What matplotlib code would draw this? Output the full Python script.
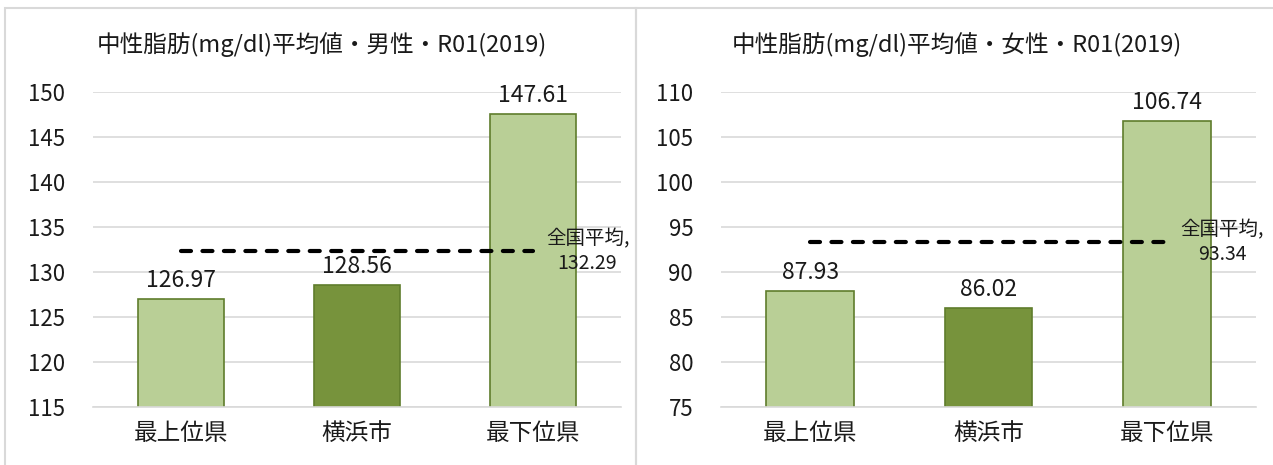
import matplotlib
matplotlib.use("Agg")
import matplotlib.pyplot as plt
from matplotlib.patches import Rectangle

plt.rcParams['font.family'] = ['Noto Sans CJK JP', 'DejaVu Sans']

categories = ["最上位県", "横浜市", "最下位県"]

male_values = [126.97, 128.56, 147.61]
male_avg = 132.29
male_ticks = [115, 120, 125, 130, 135, 140, 145, 150]
male_title = "中性脂肪(mg/dl)平均値・男性・R01(2019)"

female_values = [87.93, 86.02, 106.74]
female_avg = 93.34
female_ticks = [75, 80, 85, 90, 95, 100, 105, 110]
female_title = "中性脂肪(mg/dl)平均値・女性・R01(2019)"

light_green = "#b9cf96"
dark_green = "#77933c"
edge_green = "#5f7d2c"
grid_gray = "#d9d9d9"
text_col = "#1a1a1a"

W, H = 1273, 465
fig = plt.figure(figsize=(W / 100, H / 100), dpi=100)


def px(x0, y0, w, h):
    # pixel box (from top-left) -> figure fraction
    return [x0 / W, 1 - (y0 + h) / H, w / W, h / H]


# chart borders
for x0, x1 in [(5, 636), (636, 1290)]:
    fig.patches.append(Rectangle((x0 / W, -0.1), (x1 - x0) / W, (H - 8) / H + 0.1,
                                 transform=fig.transFigure, fill=False,
                                 edgecolor=grid_gray, linewidth=1.5))


def draw(ax, values, avg, ticks, title, title_x):
    colors = [light_green, dark_green, light_green]
    x = range(len(categories))
    bars = ax.bar(x, values, width=0.49, color=colors, edgecolor=edge_green,
                  linewidth=1.2, zorder=2)
    ax.set_ylim(ticks[0], ticks[-1])
    ax.set_xlim(-0.5, 2.5)
    ax.set_yticks(ticks)
    ax.set_xticks(list(x))
    ax.set_xticklabels(categories, fontsize=17, color=text_col)
    ax.tick_params(axis='y', length=0, pad=20, labelsize=16, labelcolor=text_col)
    ax.tick_params(axis='x', length=0, pad=11)
    ax.grid(axis='y', color=grid_gray, linewidth=1.2, zorder=0)
    for s in ["top", "right", "left"]:
        ax.spines[s].set_visible(False)
    ax.spines["bottom"].set_color(grid_gray)
    ax.spines["bottom"].set_linewidth(1.2)
    for b, v in zip(bars, values):
        ax.annotate(f"{v:.2f}", (b.get_x() + b.get_width() / 2, v),
                    xytext=(0, 5), textcoords="offset points",
                    ha="center", va="bottom", fontsize=16.5, color=text_col)
    ax.plot([0, 2], [avg, avg], color="black", linewidth=3,
            dashes=(2.4, 2.75), dash_capstyle="round", zorder=3)
    ax.text(2.31, avg, f"全国平均,\n{avg:.2f}", ha="center", va="center",
            fontsize=14, color=text_col, linespacing=1.25, zorder=4)
    fig.text(title_x / W, 1 - 45 / H, title, ha="center", va="center",
             fontsize=17, color=text_col)


ax1 = fig.add_axes(px(93, 92, 528, 315))
draw(ax1, male_values, male_avg, male_ticks, male_title, 322)

ax2 = fig.add_axes(px(721, 92, 535, 315))
draw(ax2, female_values, female_avg, female_ticks, female_title, 957)

fig.savefig("out.png", dpi=100)
